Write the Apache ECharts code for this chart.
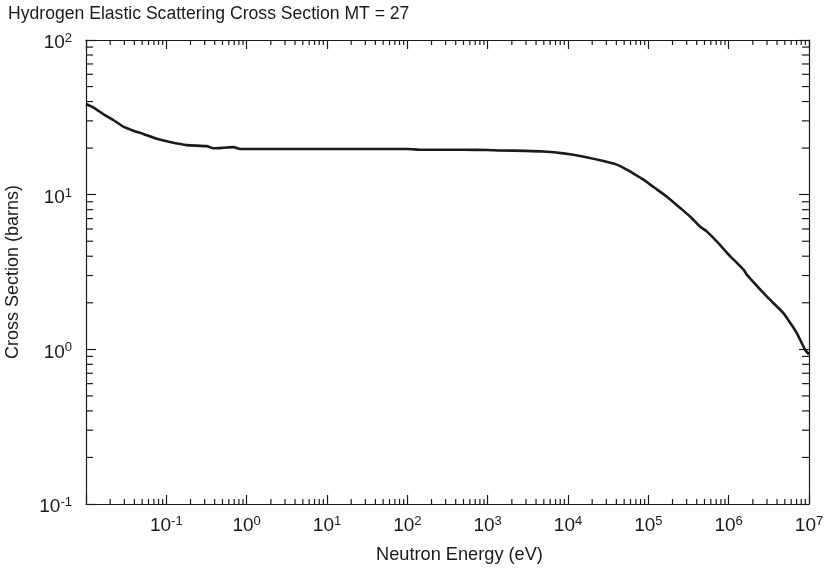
<!DOCTYPE html>
<html>
<head>
<meta charset="utf-8">
<script src="https://cdn.jsdelivr.net/npm/echarts@6/dist/echarts.min.js"></script>
<style>
  html, body { margin: 0; padding: 0; background: #fff; }
  #chart { width: 827px; height: 573px; }
</style>
</head>
<body>
<div id="chart"></div>
<script>
// Neutron energy (eV) and elastic cross section (barns) for hydrogen
const energy = [
  0.01, 0.0123, 0.0164, 0.0219, 0.0292, 0.0389, 0.0518, 0.0759, 0.111, 0.18,
  0.318, 0.385, 0.513, 0.683, 0.83, 2, 10, 50, 100, 150, 500, 1000, 1432,
  3000, 4955, 8790, 14190, 25180, 36900, 44700, 54080, 65500, 87300, 116000,
  170200, 249500, 333000, 442600, 537000, 714500, 1000000, 1540000, 1690000,
  3000000, 4830000, 5850000, 7080000, 8970000, 10000000
];
const sigma = [
  38.6, 36.7, 33.2, 30.4, 27.5, 25.9, 24.7, 23.0, 21.9, 20.9,
  20.6, 19.95, 20.1, 20.3, 19.75, 19.75, 19.75, 19.75, 19.75, 19.5, 19.5, 19.45, 19.3,
  19.2, 19.0, 18.5, 17.8, 16.7, 15.9, 15.3, 14.5, 13.7, 12.5, 11.2,
  9.7, 8.2, 7.2, 6.2, 5.77, 4.97, 4.1, 3.26, 3.03,
  2.19, 1.71, 1.48, 1.27, 0.99, 0.93
];

// Axis ranges and minor tick mantissas for the log decades
const xRange = [0.01, 1e7];
const yRange = [0.1, 100];
const minorMantissas = [2, 3, 4, 5, 6, 7, 8, 9];

const titleText = 'Hydrogen Elastic Scattering Cross Section MT = 27';
const xName = 'Neutron Energy (eV)';
const yName = 'Cross Section (barns)';

const curve = energy.map((e, i) => [e, sigma[i]]);

function decadeMinors(lo, hi) {
  const out = [];
  for (let d = Math.round(Math.log10(lo)); d < Math.round(Math.log10(hi)); d++) {
    minorMantissas.forEach(m => out.push(m * Math.pow(10, d)));
  }
  return out;
}
const xMinor = decadeMinors(xRange[0], xRange[1]);
const yMinor = decadeMinors(yRange[0], yRange[1]);

const FONT = '"Liberation Sans", Arial, Helvetica, sans-serif';
const INK = '#1a1a1a';

function powLabel(v, skipMin) {
  const exp = Math.round(Math.log10(v));
  if (skipMin !== undefined && Math.abs(v - skipMin) < skipMin * 1e-6) return '';
  return '{b|10}{s|' + exp + '}';
}
const richPow = {
  b: { fontSize: 19, fontFamily: FONT, color: INK, lineHeight: 22 },
  s: { fontSize: 13, fontFamily: FONT, color: INK, lineHeight: 22, verticalAlign: 'top', padding: [0, 0, 9, 0] }
};

function axisCommon() {
  return {
    type: 'log',
    logBase: 10,
    axisLine: { show: true, onZero: false, lineStyle: { color: INK, width: 1.2 } },
    axisTick: { show: true, inside: true, length: 9, lineStyle: { color: INK, width: 1.2 } },
    splitLine: { show: false },
    minorTick: { show: false },
    minorSplitLine: { show: false }
  };
}

// Minor tick marks drawn from the axis scales (2..9 within each decade)
function minorTickSeries(values, isX, len) {
  return {
    type: 'custom',
    silent: true,
    xAxisIndex: 0,
    yAxisIndex: 0,
    clip: false,
    z: 5,
    data: values.map(v => [v]),
    renderItem: function (params, api) {
      const v = api.value(0);
      const style = { stroke: INK, lineWidth: 1.2 };
      let a, b;
      if (isX) {
        a = api.coord([v, yRange[0]]);
        b = api.coord([v, yRange[1]]);
        return {
          type: 'group',
          children: [
            { type: 'line', shape: { x1: a[0], y1: a[1], x2: a[0], y2: a[1] - len }, style: style },
            { type: 'line', shape: { x1: b[0], y1: b[1], x2: b[0], y2: b[1] + len }, style: style }
          ]
        };
      }
      a = api.coord([xRange[0], v]);
      b = api.coord([xRange[1], v]);
      return {
        type: 'group',
        children: [
          { type: 'line', shape: { x1: a[0], y1: a[1], x2: a[0] + len, y2: a[1] }, style: style },
          { type: 'line', shape: { x1: b[0], y1: b[1], x2: b[0] - len, y2: b[1] }, style: style }
        ]
      };
    }
  };
}

const chart = echarts.init(document.getElementById('chart'), null, { renderer: 'canvas' });

chart.setOption({
  backgroundColor: '#fff',
  animation: false,
  title: {
    text: titleText,
    left: 8,
    top: 5,
    padding: 0,
    textStyle: { fontFamily: FONT, fontSize: 17.6, fontWeight: 'normal', color: INK }
  },
  grid: {
    left: 86, right: 18, top: 40, bottom: 69,
    containLabel: false,
    outerBoundsMode: 'none'
  },
  xAxis: [
    Object.assign(axisCommon(), {
      position: 'bottom',
      min: xRange[0], max: xRange[1],
      name: xName,
      nameLocation: 'middle',
      nameGap: 42,
      nameTextStyle: { fontFamily: FONT, fontSize: 18.2, color: INK, padding: [0, 0, 0, 24] },
      axisLabel: {
        show: true, margin: 11,
        formatter: v => powLabel(v, xRange[0]),
        rich: richPow
      }
    }),
    Object.assign(axisCommon(), {
      position: 'top',
      min: xRange[0], max: xRange[1],
      axisLabel: { show: false }
    })
  ],
  yAxis: [
    Object.assign(axisCommon(), {
      position: 'left',
      min: yRange[0], max: yRange[1],
      name: yName,
      nameLocation: 'middle',
      nameGap: 64,
      nameTextStyle: { fontFamily: FONT, fontSize: 18, color: INK },
      axisTick: { show: true, inside: true, length: 10, lineStyle: { color: INK, width: 1.2 } },
      axisLabel: {
        show: true, margin: 14,
        padding: [6, 0, 0, 0],
        formatter: v => powLabel(v),
        rich: richPow
      }
    }),
    Object.assign(axisCommon(), {
      position: 'right',
      min: yRange[0], max: yRange[1],
      axisTick: { show: true, inside: true, length: 10, lineStyle: { color: INK, width: 1.2 } },
      axisLabel: { show: false }
    })
  ],
  series: [
    {
      type: 'line',
      data: curve,
      xAxisIndex: 0,
      yAxisIndex: 0,
      showSymbol: false,
      smooth: 0.2,
      lineStyle: { color: INK, width: 2.6, join: 'round' },
      z: 10
    },
    minorTickSeries(xMinor, true, 5),
    minorTickSeries(yMinor, false, 7)
  ]
});
</script>
</body>
</html>
